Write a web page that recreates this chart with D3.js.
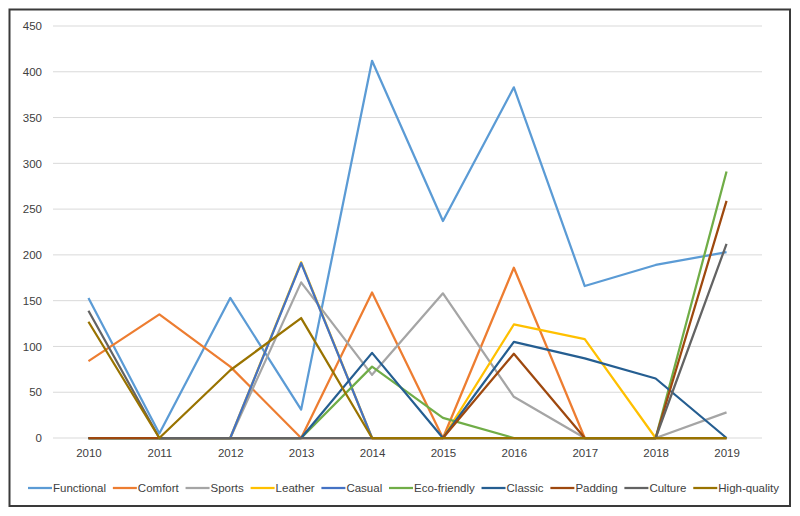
<!DOCTYPE html>
<html><head><meta charset="utf-8">
<script src="https://cdn.jsdelivr.net/npm/d3@7"></script>
<style>
body{margin:0;background:#fff;}
svg text{font-family:"Liberation Sans",Arial,sans-serif;}
</style></head>
<body><svg id="c" width="800" height="516"></svg>
<script>
const years = ["2010","2011","2012","2013","2014","2015","2016","2017","2018","2019"];
const yTicks = [0,50,100,150,200,250,300,350,400,450];
const seriesNames = ["Functional","Comfort","Sports","Leather","Casual","Eco-friendly","Classic","Padding","Culture","High-quality"];
const seriesColors = ["#5B9BD5","#ED7D31","#A5A5A5","#FFC000","#4472C4","#70AD47","#255E91","#9E480E","#636363","#997300"];
const functional  = [153, 5, 153, 31, 412, 237, 383, 166, 189, 203];
const comfort     = [84, 135, 78, 0, 159, 0, 186, 0, 0, 0];
const sports      = [0, 0, 0, 170, 69, 158, 45, 0, 0, 28];
const leather     = [0, 0, 0, 192, 0, 0, 124, 108, 0, 0];
const casual      = [0, 0, 0, 191, 0, 0, 0, 0, 0, 0];
const ecoFriendly = [0, 0, 0, 0, 78, 22, 0, 0, 0, 291];
const classic     = [0, 0, 0, 0, 93, 0, 105, 87, 65, 0];
const padding     = [0, 0, 0, 0, 0, 0, 92, 0, 0, 259];
const culture     = [139, 0, 0, 0, 0, 0, 0, 0, 0, 212];
const highQuality = [127, 0, 74, 131, 0, 0, 0, 0, 0, 0];
const seriesValues = [functional, comfort, sports, leather, casual, ecoFriendly, classic, padding, culture, highQuality];

const svg = d3.select("#c");
// frame
svg.append("rect").attr("x",9.5).attr("y",9.5).attr("width",780.5).attr("height",496.5)
  .attr("fill","#fff").attr("stroke","#3a3a3a").attr("stroke-width",2);

const x = d3.scalePoint().domain(years).range([53,762]).padding(0.5);
const y = d3.scaleLinear().domain([0,450]).range([438,26]);

// gridlines
svg.append("g").selectAll("line").data(yTicks).join("line")
  .attr("x1",53).attr("x2",762)
  .attr("y1",d=>y(d)).attr("y2",d=>y(d))
  .attr("stroke","#d9d9d9").attr("stroke-width",1);

// y axis labels
const yAxis = svg.append("g").attr("transform","translate(53,0)")
  .call(d3.axisLeft(y).tickValues(yTicks).tickSize(0).tickPadding(11));
yAxis.select(".domain").remove();
yAxis.selectAll("text").attr("font-size",11.5).attr("fill","#404040").style("font-family","Liberation Sans, Arial, sans-serif");

// x axis labels
const xAxis = svg.append("g").attr("transform","translate(0,438)")
  .call(d3.axisBottom(x).tickSize(0).tickPadding(11));
xAxis.select(".domain").remove();
xAxis.selectAll("text").attr("font-size",11.5).attr("fill","#404040").style("font-family","Liberation Sans, Arial, sans-serif");

// lines
const line = d3.line().x((d,i)=>x(years[i])).y(d=>y(d));
svg.append("g").selectAll("path").data(seriesValues).join("path")
  .attr("d",d=>line(d)).attr("fill","none")
  .attr("stroke",(d,i)=>seriesColors[i]).attr("stroke-width",2.25)
  .attr("stroke-linejoin","round");

// legend
const lg = svg.append("g");
const items = lg.selectAll("g").data(seriesNames).join("g");
items.append("line").attr("x1",0).attr("x2",24).attr("y1",0).attr("y2",0)
  .attr("stroke",(d,i)=>seriesColors[i]).attr("stroke-width",2.25);
items.append("text").attr("x",25).attr("y",4).attr("font-size",11.5).attr("fill","#404040").text(d=>d);
const widths = [];
items.each(function(){ widths.push(25 + d3.select(this).select("text").node().getComputedTextLength()); });
const totalSpan = 751;
const gap = (totalSpan - d3.sum(widths)) / (widths.length - 1);
let cx = 28;
items.each(function(d,i){ d3.select(this).attr("transform",`translate(${cx},488)`); cx += widths[i] + gap; });
</script></body></html>
